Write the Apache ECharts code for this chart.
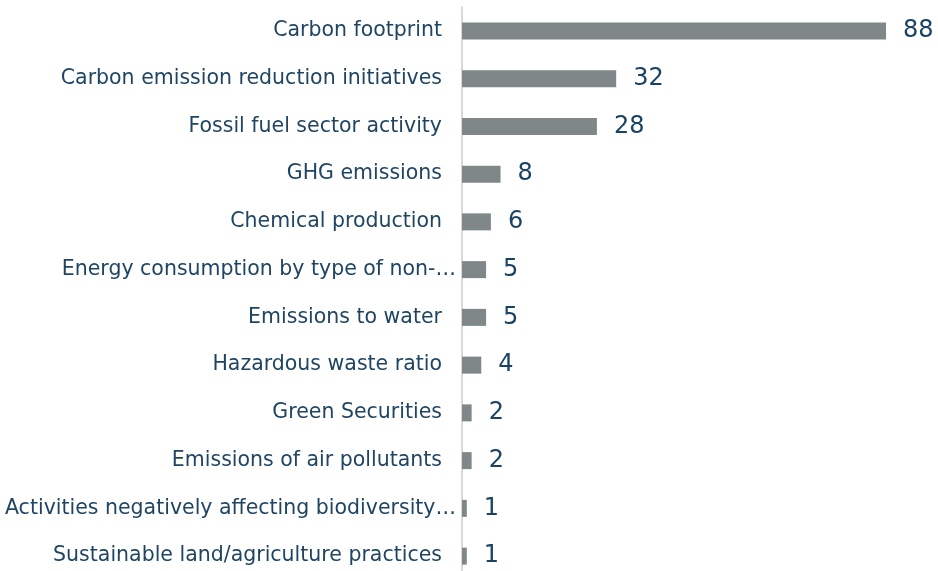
<!DOCTYPE html>
<html>
<head>
<meta charset="utf-8">
<script src="https://cdn.jsdelivr.net/npm/echarts@6/dist/echarts.min.js"></script>
<style>
  html, body { margin: 0; padding: 0; background: #fff; }
  #chart { width: 938px; height: 571px; }
</style>
</head>
<body>
<div id="chart"></div>
<script>
// Topics listed top to bottom
const categories = [
  'Carbon footprint',
  'Carbon emission reduction initiatives',
  'Fossil fuel sector activity',
  'GHG emissions',
  'Chemical production',
  'Energy consumption by type of non-…',
  'Emissions to water',
  'Hazardous waste ratio',
  'Green Securities',
  'Emissions of air pollutants',
  'Activities negatively affecting biodiversity…',
  'Sustainable land/agriculture practices'
];
const counts = [88, 32, 28, 8, 6, 5, 5, 4, 2, 2, 1, 1];

// Shortened names let their ellipsis run up to the axis line
const yData = categories.map(name =>
  name.endsWith('…')
    ? { value: name, textStyle: { padding: [0, -14, 0, 0] } }
    : name
);

const chart = echarts.init(document.getElementById('chart'));
chart.setOption({
  animation: false,
  grid: { left: 462, right: 52, top: 7, height: 573, outerBoundsMode: 'none' },
  xAxis: {
    type: 'value', min: 0, max: 88,
    show: false
  },
  yAxis: {
    type: 'category',
    inverse: true,
    data: yData,
    axisLine: { show: true, lineStyle: { color: '#d9d9d9', width: 2 } },
    axisTick: { show: false },
    axisLabel: {
      margin: 20,
      color: '#1f4563',
      fontFamily: 'DejaVu Sans',
      fontSize: 20.5
    }
  },
  series: [{
    type: 'bar',
    data: counts,
    barWidth: 17,
    itemStyle: { color: '#7f8788' },
    label: {
      show: true,
      position: 'right',
      distance: 17,
      color: '#1a4363',
      fontFamily: 'DejaVu Sans',
      fontSize: 24
    }
  }]
});
</script>
</body>
</html>
